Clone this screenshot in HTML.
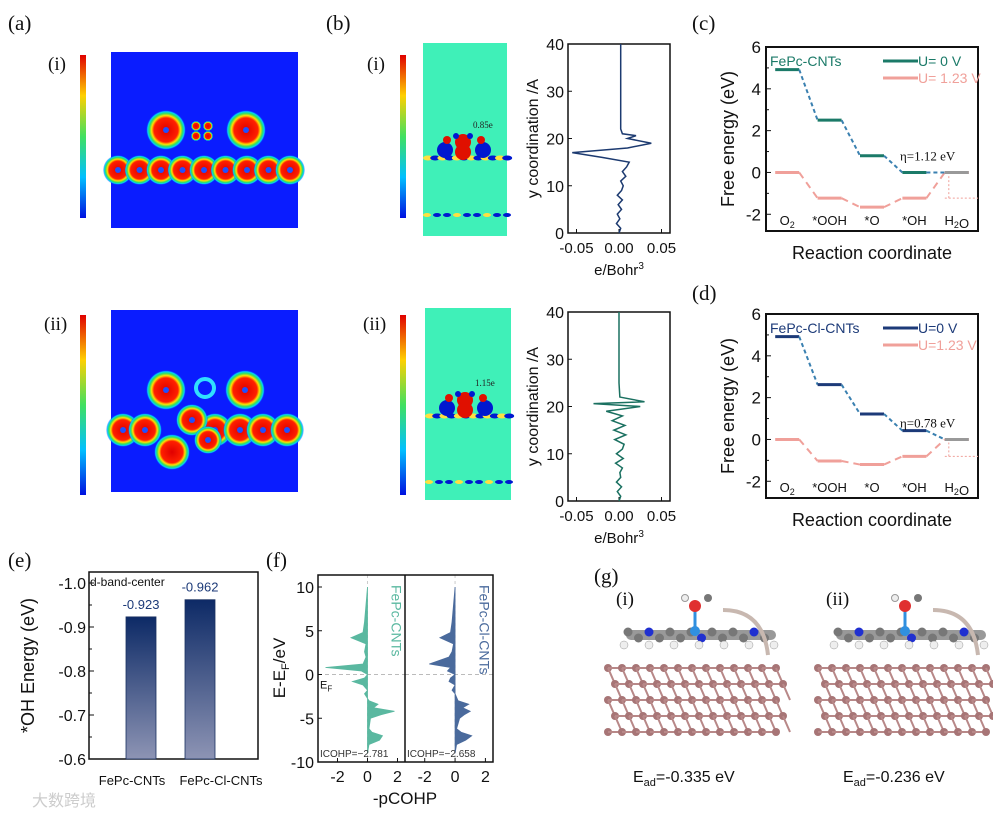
<!DOCTYPE html>
<html><head><meta charset="utf-8"><style>
html,body{margin:0;padding:0;background:#fff}
svg{display:block;font-family:"Liberation Sans",sans-serif}
.lab{font-family:"Liberation Serif",serif;font-size:21px}
.sub{font-family:"Liberation Serif",serif;font-size:19px}
</style></head><body>
<svg id="fig" width="993" height="815" viewBox="0 0 993 815" xmlns="http://www.w3.org/2000/svg">
<defs>
<linearGradient id="cbar" x1="0" y1="0" x2="0" y2="1">
<stop offset="0" stop-color="#e00000"/><stop offset="0.25" stop-color="#ffd000"/><stop offset="0.5" stop-color="#40e060"/><stop offset="0.75" stop-color="#00c0ff"/><stop offset="1" stop-color="#0010e0"/></linearGradient>
<radialGradient id="blob"><stop offset="0" stop-color="#e00000"/><stop offset="0.6" stop-color="#ff2000"/><stop offset="0.72" stop-color="#ffe000"/><stop offset="0.83" stop-color="#30e060"/><stop offset="0.92" stop-color="#00d0ff"/><stop offset="1" stop-color="#0a1cff" stop-opacity="0"/></radialGradient>
<linearGradient id="barg" x1="0" y1="0" x2="0" y2="1"><stop offset="0" stop-color="#0d2a66"/><stop offset="1" stop-color="#8d94b4"/></linearGradient>
</defs>
<g id="root"></g>
</svg>
<script>
// ---------- data ----------
const steps = ["O2","*OOH","*O","*OH","H2O"];
const cU0 = [4.92, 2.5, 0.8, 0, 0];
const cU123 = [0, -1.23, -1.66, -1.23, 0];
const dU0 = [4.92, 2.62, 1.22, 0.42, 0];
const dU123 = [0, -1.03, -1.2, -0.81, 0];
const eCats = ["FePc-CNTs","FePc-Cl-CNTs"];
const eVals = [-0.923, -0.962];
const eLabels = ["-0.923","-0.962"];
const bY = [0,1,2,3,4,5,6,7,8,9,10,11,12,13,14,15,16,17,18,19,20,20.6,21,22,25,30,35,40];
const b1V = [0,0.002,-0.003,0.001,-0.002,0.003,-0.001,0.004,-0.002,0.003,0.005,0.002,0.008,0.004,0.009,0.012,-0.02,-0.055,0.01,0.038,0.01,0.02,0.004,0.002,0.002,0.002,0.002,0.002];
const b2V = [0,0.002,-0.002,0.003,-0.003,0.002,0.001,0.004,-0.004,0.005,-0.003,0.004,0.006,-0.005,0.008,-0.006,0.007,-0.008,0.004,-0.015,0.025,-0.03,0.03,0.001,0,0,0,0];
const fE = [-9,-8,-7.5,-7,-6.6,-6.2,-5,-4.6,-4.2,-3.8,-3.4,-3,-2.2,-1.8,-1.2,-0.8,-0.4,0,0.4,0.8,1.2,2,2.6,3.5,4.2,4.8,6,8,10];
const f1V = [0,0.1,0.8,1.0,0.3,0.1,0.2,0.9,1.8,0.4,0.7,0.1,-0.2,0,-0.3,-1.0,-0.2,0,-0.4,-2.8,-0.3,-0.1,-0.2,-0.1,-1.1,-0.3,-0.2,-0.1,0];
const f2V = [0,0.1,0.7,1.1,0.4,0.1,0.3,0.6,1.0,0.5,0.9,0.2,0,-0.2,0,-0.4,-0.3,0,-0.5,-0.3,-1.7,-0.4,-0.2,-0.1,-1.0,-0.3,-0.2,-0.1,0];

const NS="http://www.w3.org/2000/svg";
const root=document.getElementById('root');
function el(tag,attrs,parent,text){const e=document.createElementNS(NS,tag);for(const k in attrs)e.setAttribute(k,attrs[k]);if(text!==undefined)e.textContent=text;(parent||root).appendChild(e);return e;}
function lin(d0,d1,r0,r1){return v=>r0+(v-d0)*(r1-r0)/(d1-d0);}
function txt(x,y,s,o,p){const t=el('text',Object.assign({x:x,y:y,'font-size':15,fill:'#111'},o||{}),p,s);return t;}

// panel labels
[["(a)",8,30],["(b)",326,30],["(c)",692,30],["(d)",692,300],["(e)",8,567],["(f)",266,567],["(g)",594,583]].forEach(l=>{
 const t=txt(l[1],l[2],l[0],{class:'lab'});
 
 
});
[["(i)",48,70],["(ii)",44,330],["(i)",367,70],["(ii)",363,330]].forEach(l=>{const t=txt(l[1],l[2],l[0],{class:'sub'});
 
 });

// ---------- panel a maps ----------
function colorbar(x,y,h,name){const r=el('rect',{x:x,y:y,width:6,height:h,fill:'url(#cbar)'});
 
 }
colorbar(80,55,163,'colorbar-a-i');colorbar(80,315,180,'colorbar-a-ii');
colorbar(400,55,163,'colorbar-b-i');colorbar(400,315,180,'colorbar-b-ii');
function amap(x,y,w,h,blobs,name){
 const g=el('g',{});
 
 
 el('rect',{x:x,y:y,width:w,height:h,fill:'#0a1cff'},g);
 blobs.forEach(b=>{el('circle',{cx:b[0],cy:b[1],r:b[2],fill:'url(#blob)'},g);if(b[3])el('circle',{cx:b[0],cy:b[1],r:3,fill:'#2050ff'},g);});
 return g;}
let blobs1=[];for(let i=0;i<9;i++)blobs1.push([118+i*21.5,170,15,1]);
blobs1.push([166,130,20,1],[246,130,20,1],[196,126,5,0],[208,126,5,0],[196,136,5,0],[208,136,5,0]);
amap(111,52,187,176,blobs1,'charge-density-map-i');
let blobs2=[];[123,145,215,240,263,287].forEach(x=>blobs2.push([x,430,17,1]));
blobs2.push([166,390,20,1],[245,390,20,1],[192,420,16,1],[208,440,14,1],[172,452,18,0]);
amap(111,310,187,182,blobs2,'charge-density-map-ii');
el('circle',{cx:205,cy:388,r:9,fill:'none',stroke:'#30e0ff','stroke-width':4});

// ---------- panel b maps ----------
function bmap(x,y,w,h,cy,bot,lbl,name){
 const g=el('g',{});
 
 
 el('rect',{x:x,y:y,width:w,height:h,fill:'#3ff0b8'},g);
 for(let i=0;i<12;i++){el('ellipse',{cx:x+5+i*7.2,cy:cy+8,rx:5,ry:2.5,fill:i%2?'#0018d0':'#ffe040'},g);}
 [[x+22,cy,8,'#0018d0'],[x+60,cy,8,'#0018d0'],[x+40,cy-8,8,'#e01000'],[x+40,cy+2,8,'#e01000'],[x+24,cy-10,4,'#e01000'],[x+58,cy-10,4,'#e01000'],[x+33,cy-14,3,'#0018d0'],[x+47,cy-14,3,'#0018d0']].forEach(c=>el('circle',{cx:c[0],cy:c[1],r:c[2],fill:c[3]},g));
 for(let i=0;i<9;i++)el('ellipse',{cx:x+4+i*10,cy:bot,rx:4,ry:2,fill:i%3?'#0018d0':'#ffe040'},g);
 txt(x+50,cy-22,lbl,{'font-size':9,fill:'#222','font-family':'Liberation Serif'},g);
}
bmap(423,43,84,193,150,215,'0.85e','charge-diff-map-i');
bmap(425,308,86,192,408,482,'1.15e','charge-diff-map-ii');

// ---------- panel b profiles ----------
function profile(x0,y0,w,h,vals,color,name){
 const sx=lin(-0.06,0.06,x0,x0+w), sy=lin(0,40,y0+h,y0);
 const g=el('g',{});
 el('rect',{x:x0,y:y0,width:w,height:h,fill:'none',stroke:'#111','stroke-width':1.5},g);
 [0,10,20,30,40].forEach(v=>{el('line',{x1:x0,x2:x0+4,y1:sy(v),y2:sy(v),stroke:'#111'},g);txt(x0-4,sy(v)+6,String(v),{'text-anchor':'end','font-size':16},g);});
 [-0.05,0,0.05].forEach(v=>{el('line',{x1:sx(v),x2:sx(v),y1:y0+h,y2:y0+h-4,stroke:'#111'},g);txt(sx(v),y0+h+20,v.toFixed(2),{'text-anchor':'middle','font-size':15},g);});
 const pts=bY.map((y,i)=>sx(vals[i])+','+sy(y)).join(' ');
 const p=el('polyline',{points:pts,fill:'none',stroke:color,'stroke-width':1.5},g);
 
 txt(0,0,'y coordination /A',{'font-size':16,'text-anchor':'middle',transform:`translate(${x0-30},${y0+h/2}) rotate(-90)`},g);
 const xl=txt(x0+w/2,y0+h+42,'',{'font-size':15,'text-anchor':'middle'},g);
 xl.innerHTML='e/Bohr<tspan dy="-6" font-size="10">3</tspan>';
}
profile(568,44,102,189,b1V,'#1c3a70','profile-plot-i');
profile(568,312,102,189,b2V,'#1a7060','profile-plot-ii');

// ---------- panels c/d ----------
function energy(x0,y0,w,h,u0,u1,c0,c1,lblName,legA,legB,eta,name){
 const sy=lin(-2.8,6,y0+h,y0); const slot=w/5; const cx=i=>x0+slot*i+slot/2;
 const g=el('g',{});
 el('rect',{x:x0,y:y0,width:w,height:h,fill:'none',stroke:'#111','stroke-width':2},g);
 [-2,0,2,4,6].forEach(v=>{el('line',{x1:x0,x2:x0+5,y1:sy(v),y2:sy(v),stroke:'#111'},g);txt(x0-5,sy(v)+6,String(v),{'text-anchor':'end','font-size':17},g);});
 [-1,1,3,5].forEach(v=>el('line',{x1:x0,x2:x0+3,y1:sy(v),y2:sy(v),stroke:'#111'},g));
 [[u1,c1],[u0,c0]].forEach(([arr,col],k)=>{
  arr.forEach((v,i)=>{const l=el('line',{x1:cx(i)-12,x2:cx(i)+12,y1:sy(v),y2:sy(v),stroke:(k==1&&i==4)?'#999':col,'stroke-width':3},g);
   
   if(i<4)el('line',{x1:cx(i)+12,x2:cx(i+1)-12,y1:sy(v),y2:sy(arr[i+1]),stroke:k==1?'#3a80b0':col,'stroke-width':2,'stroke-dasharray':k==1?'4,3':'7,5'},g);});
 });
 steps.forEach((s,i)=>{const t=txt(cx(i),y0+h-6,'',{'text-anchor':'middle','font-size':13},g);
  t.innerHTML=s.replace('2','<tspan dy="3" font-size="9">2</tspan><tspan dy="-3"></tspan>');});
 txt(x0+4,y0+19,lblName,{'font-size':14,fill:c0},g);
 el('line',{x1:x0+w-95,x2:x0+w-60,y1:y0+14,y2:y0+14,stroke:c0,'stroke-width':3},g);
 txt(x0+w-60,y0+19,legA,{'font-size':14,fill:c0},g);
 el('line',{x1:x0+w-95,x2:x0+w-60,y1:y0+31,y2:y0+31,stroke:c1,'stroke-width':3},g);
 txt(x0+w-60,y0+36,legB,{'font-size':14,fill:c1},g);
 txt(x0+w-78,sy(0)-12,eta,{'font-size':13,'font-family':'Liberation Serif'},g);
 el('line',{x1:cx(4)-8,x2:cx(4)-8,y1:sy(u1[3]),y2:sy(0)+3,stroke:c1,'stroke-dasharray':'2,2'},g);
 el('line',{x1:cx(4)-12,x2:x0+w,y1:sy(u1[3]),y2:sy(u1[3]),stroke:c1,'stroke-dasharray':'2,2'},g);
 txt(0,0,'Free energy (eV)',{'font-size':18,'text-anchor':'middle',transform:`translate(${x0-32},${y0+h/2}) rotate(-90)`},g);
 txt(x0+w/2,y0+h+28,'Reaction coordinate',{'font-size':18,'text-anchor':'middle'},g);
}
energy(766,47,212,184,cU0,cU123,'#1b7a68','#f0a09a','FePc-CNTs','U= 0 V','U= 1.23 V','η=1.12 eV','energy-diagram-c');
energy(766,314,212,184,dU0,dU123,'#1c3a78','#f0a09a','FePc-Cl-CNTs','U=0 V','U=1.23 V','η=0.78 eV','energy-diagram-d');

// ---------- panel e ----------
(function(){
 const x0=89,y0=572,w=169,h=187; const sy=lin(-1.0,-0.6,583,759);
 const g=el('g',{});
 el('rect',{x:x0,y:y0,width:w,height:h,fill:'none',stroke:'#111','stroke-width':1.5},g);
 [-1.0,-0.9,-0.8,-0.7,-0.6].forEach(v=>{el('line',{x1:x0,x2:x0+5,y1:sy(v),y2:sy(v),stroke:'#111'},g);txt(x0-3,sy(v)+6,v.toFixed(1),{'text-anchor':'end','font-size':16},g);});
 [-0.95,-0.85,-0.75,-0.65].forEach(v=>el('line',{x1:x0,x2:x0+3,y1:sy(v),y2:sy(v),stroke:'#111'},g));
 const cxs=[x0+52,x0+111];
 const lx=[132,221];
 eVals.forEach((v,i)=>{const r=el('rect',{x:cxs[i]-15,y:sy(v),width:30,height:sy(-0.6)-sy(v),fill:'url(#barg)',stroke:'#1a3060','stroke-width':0.8},g);
  
  txt(cxs[i],sy(v)-8,eLabels[i],{'text-anchor':'middle','font-size':13,fill:'#1c3a78'},g);
  txt(lx[i],785,eCats[i],{'text-anchor':'middle','font-size':13},g);});
 txt(x0+1,y0+14,'d-band-center',{'font-size':12},g);
 txt(0,0,'*OH  Energy (eV)',{'font-size':18,'text-anchor':'middle',transform:`translate(${x0-55},${y0+h/2}) rotate(-90)`},g);
})();

// ---------- panel f ----------
(function(){
 const y0=575,h=187; const sy=lin(-10,10,762,587);
 const g=el('g',{});
 const panels=[[318,405,f1V,'#5ab8a0','FePc-CNTs','ICOHP=−2.781'],[405,493,f2V,'#4a6a9c','FePc-Cl-CNTs','ICOHP=−2.658']];
 panels.forEach(([a,b,vals,col,lbl,ic])=>{
  const sx=lin(-3.3,2.5,a,b);
  el('line',{x1:a,x2:b,y1:sy(0),y2:sy(0),stroke:'#bbb','stroke-dasharray':'4,3'},g);
  el('line',{x1:sx(0),x2:sx(0),y1:y0,y2:y0+h,stroke:'#ccc','stroke-dasharray':'3,3'},g);
  const pts=[sx(0)+','+sy(fE[0])].concat(fE.map((e,i)=>sx(vals[i])+','+sy(e))).concat([sx(0)+','+sy(fE[fE.length-1])]).join(' ');
  const p=el('polygon',{points:pts,fill:col,stroke:col,'stroke-width':0.8},g);
  
  [-2,0,2].forEach(v=>{el('line',{x1:sx(v),x2:sx(v),y1:y0+h,y2:y0+h-4,stroke:'#111'},g);txt(sx(v),y0+h+20,String(v),{'text-anchor':'middle','font-size':16},g);});
  txt(0,0,lbl,{'font-size':14,fill:col,transform:`translate(${sx(1.6)},${y0+10}) rotate(90)`},g);
  txt(a+2,y0+h-5,ic,{'font-size':10,fill:'#333'},g);
 });
 el('rect',{x:318,y:y0,width:175,height:h,fill:'none',stroke:'#111','stroke-width':1.5},g);
 el('line',{x1:405,x2:405,y1:y0,y2:y0+h,stroke:'#111','stroke-width':1.5},g);
 [-10,-5,0,5,10].forEach(v=>{el('line',{x1:318,x2:322,y1:sy(v),y2:sy(v),stroke:'#111'},g);txt(314,sy(v)+6,String(v),{'text-anchor':'end','font-size':16},g);});
 const ef=txt(320,sy(0)+14,'',{'font-size':11},g);ef.innerHTML='E<tspan dy="3" font-size="8">F</tspan>';
 const yl=txt(0,0,'',{'font-size':17,'text-anchor':'middle',transform:'translate(285,668) rotate(-90)'},g);yl.innerHTML='E-E<tspan dy="4" font-size="11">F</tspan><tspan dy="-4">/eV</tspan>';
 txt(405,804,'-pCOHP',{'font-size':17,'text-anchor':'middle'},g);
})();

// ---------- panel g ----------
function scene(x0,label,ead,name){
 const g=el('g',{});
 txt(x0+18,605,label,{class:'sub'},g);
 for(let r=0;r<5;r++)for(let c=0;c<13;c++){const x=x0+10+c*14+(r%2)*7,y=668+r*16;
  el('circle',{cx:x,cy:y,r:4,fill:'#a77576'},g);
  if(c<12)el('line',{x1:x,x2:x+14,y1:y,y2:y,stroke:'#b88888','stroke-width':2},g);
  if(r<4)el('line',{x1:x,x2:x+7,y1:y,y2:y+16,stroke:'#b88888','stroke-width':2},g);}
 el('rect',{x:x0+28,y:630,width:150,height:10,rx:5,fill:'#999'},g);
 for(let i=0;i<14;i++)el('circle',{cx:x0+30+i*10.5,cy:632+(i%2)*6,r:4.5,fill:i%5==2?'#2030d0':'#777'},g);
 for(let i=0;i<7;i++)el('circle',{cx:x0+26+i*25,cy:645,r:4,fill:'#eee',stroke:'#999','stroke-width':.5},g);
 el('circle',{cx:x0+97,cy:631,r:5,fill:'#3090e0'},g);
 el('line',{x1:x0+97,y1:631,x2:x0+97,y2:606,stroke:'#3090e0','stroke-width':3},g);
 el('circle',{cx:x0+97,cy:606,r:6,fill:'#e03030'},g);
 el('circle',{cx:x0+110,cy:598,r:4,fill:'#777'},g);
 el('circle',{cx:x0+87,cy:598,r:3.5,fill:'#eee',stroke:'#999'},g);
 el('path',{d:`M${x0+125} 610 Q${x0+165} 610 ${x0+170} 655`,fill:'none',stroke:'#c8b8b0','stroke-width':4},g);
 const t=txt(x0+35,782,'',{'font-size':16},g);t.innerHTML='E<tspan dy="4" font-size="11">ad</tspan><tspan dy="-4">='+ead+' eV</tspan>';
}
scene(598,'(i)','-0.335','adsorption-model-i');
scene(808,'(ii)','-0.236','adsorption-model-ii');

const wm=txt(8,806,'大数跨境',{'font-size':16,fill:'#ccc','font-family':'"Liberation Sans","Noto Sans CJK SC",sans-serif',dx:24});


</script>
</body></html>
